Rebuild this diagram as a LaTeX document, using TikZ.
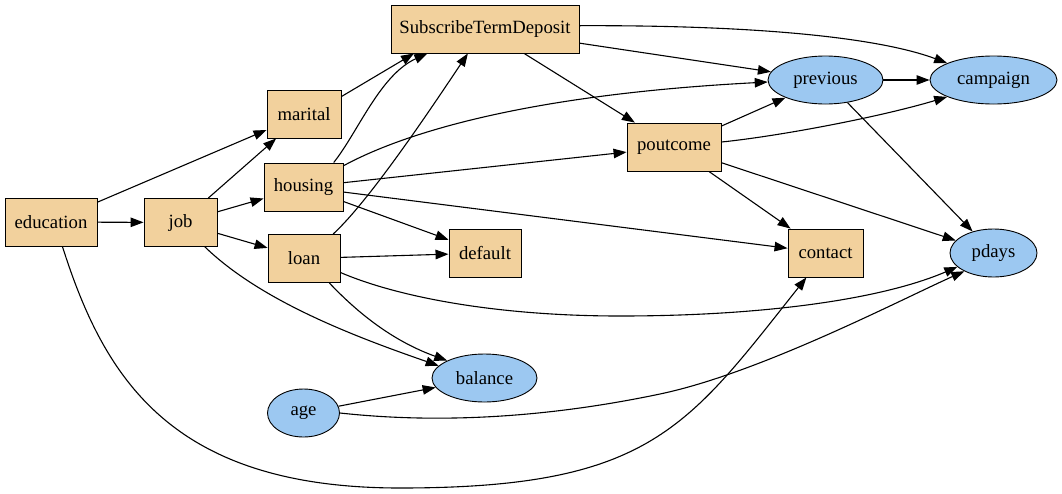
\documentclass[tikz,border=0pt]{standalone}
\usepackage{fontspec}
\setmainfont{Liberation Serif}
\usetikzlibrary{shapes.geometric, arrows.meta}
\definecolor{boxtan}{RGB}{242,209,157}
\definecolor{ovalblue}{RGB}{156,200,241}

\begin{document}
\begin{tikzpicture}[x=1pt, y=-1pt, >={Triangle[length=13pt,width=9.5pt]},
  every node/.style={font=\fontsize{18.7}{22}\selectfont, inner sep=0pt},
  rectnode/.style={draw, fill=boxtan, line width=0.9pt, minimum height=48pt},
  ovalnode/.style={ellipse, draw, fill=ovalblue, line width=0.9pt, minimum height=48pt},
  link/.style={->, line width=1.1pt}]
\useasboundingbox (0,0) rectangle (1062,493);
% variables
\node[rectnode, minimum width=92pt] (education) at (51,222) {education};
\node[rectnode, minimum width=73pt] (job) at (180.5,222.5) {job};
\node[rectnode, minimum width=74pt] (marital) at (304,114) {marital};
\node[rectnode, minimum width=79pt] (housing) at (303.5,187) {housing};
\node[rectnode, minimum width=72pt] (loan) at (304,258.5) {loan};
\node[rectnode, minimum width=188pt] (STD) at (485,29) {SubscribeTermDeposit};
\node[rectnode, minimum width=94pt] (poutcome) at (674,147) {poutcome};
\node[rectnode, minimum width=72pt] (default) at (485,253) {default};
\node[rectnode, minimum width=75pt] (contact) at (825.5,253) {contact};
\node[ovalnode, minimum width=115pt] (previous) at (825.5,80) {previous};
\node[ovalnode, minimum width=127pt] (campaign) at (993.5,80) {campaign};
\node[ovalnode, minimum width=87pt] (pdays) at (993.5,253) {pdays};
\node[ovalnode, minimum width=105pt] (balance) at (484.5,378) {balance};
\node[ovalnode, minimum width=72pt] (age) at (303.5,413) {age};
% straight edges
\draw[link] (education) -- (job);
\draw[link] (education) -- (marital);
\draw[link] (job) -- (marital);
\draw[link] (job) -- (housing);
\draw[link] (job) -- (loan);
\draw[link] (marital.25) -- (STD.199);
\draw[link] (housing) -- (poutcome);
\draw[link] (housing) -- (default);
\draw[link] (housing) -- (contact);
\draw[link] (loan) -- (default);
\draw[link] (STD) -- (previous);
\draw[link] (STD) -- (poutcome);
\draw[link] (poutcome) -- (previous);
\draw[link] (poutcome) -- (contact);
\draw[link] (poutcome) -- (pdays);
\draw[link] (previous) -- (campaign);
\draw[link] (previous) -- (pdays);
\draw[link] (age) -- (balance);
% curved edges
\draw[link] (education.295) .. controls (104,377) and (170,488) .. (400,488)
  .. controls (650,488) and (687,428) .. (contact.232);
\draw[link] (job.315) .. controls (260,300) and (350,335) .. (balance.165);
\draw[link] (housing.39) .. controls (358,132) and (380,75) .. (STD.203);
\draw[link] (housing.28) .. controls (400,135) and (520,95) .. (previous.182);
\draw[link] (loan.40) .. controls (370,200) and (430,110) .. (STD.235);
\draw[link] (loan.316) .. controls (355,310) and (390,340) .. (balance.155);
\draw[link] (loan.339) .. controls (400,298) and (500,316) .. (620,316)
  .. controls (760,316) and (880,300) .. (pdays.201);
\draw[link] (STD.2) .. controls (760,25) and (880,38) .. (campaign.160);
\draw[link] (poutcome.6) .. controls (780,136) and (880,117) .. (campaign.200);
\draw[link] (age.east) .. controls (450,425) and (560,415) .. (660,394)
  .. controls (760,373) and (900,300) .. (pdays.212);
\end{tikzpicture}
\end{document}
